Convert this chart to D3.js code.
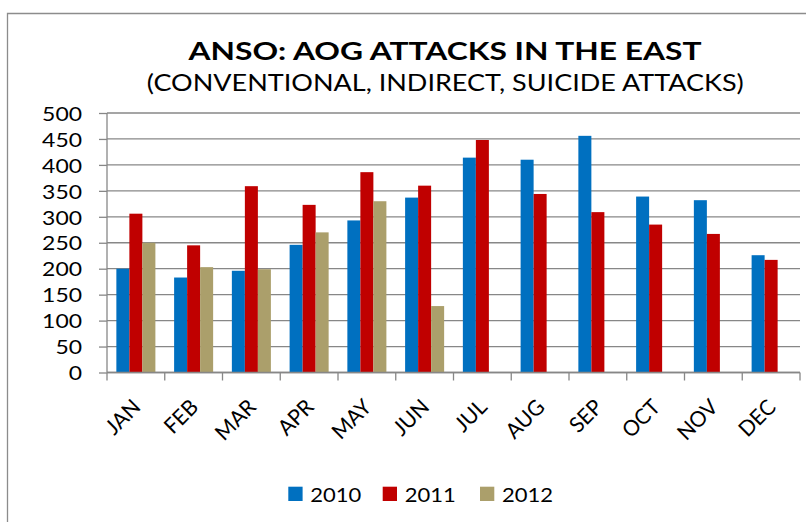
<!DOCTYPE html>
<html><head><meta charset="utf-8">
<script src="https://cdn.jsdelivr.net/npm/d3@7"></script>
<style>body{margin:0;background:#fff}svg{display:block}text{font-family:Lato,"Open Sans",sans-serif;fill:#000}</style>
</head><body><svg id="c" width="806" height="522"></svg>
<script>
const months = ["JAN","FEB","MAR","APR","MAY","JUN","JUL","AUG","SEP","OCT","NOV","DEC"];
const seriesNames = ["2010","2011","2012"];
const values2010 = [200,183,196,246,293,337,414,410,456,339,332,226];
const values2011 = [306,245,359,323,386,360,448,344,309,285,267,217];
const values2012 = [250,203,199,270,330,128,null,null,null,null,null,null];
const colors = ["#0070C0","#C00000","#AB9F6B"];
const yTicks = [0,50,100,150,200,250,300,350,400,450,500];
const title = "ANSO: AOG ATTACKS IN THE EAST";
const subtitle = "(CONVENTIONAL, INDIRECT, SUICIDE ATTACKS)";

const svg = d3.select("#c");
const L = 107, R = 800, T = 113, B = 372.5;
const grid = "#878787";
const x = d3.scaleBand().domain(months).range([L, R]).paddingInner(0).paddingOuter(0);
const x1 = d3.scaleBand().domain(seriesNames).range([0, x.bandwidth()]).paddingInner(0).paddingOuter(0.72);
const y = d3.scaleLinear().domain([0, 500]).range([B, T]);

// frame
svg.append("path").attr("d", `M7.5,522 V13.5 H806`).attr("fill","none").attr("stroke","#8c8c8c").attr("stroke-width",1.3);

// title
svg.append("text").attr("x",445).attr("y",60).attr("text-anchor","middle")
  .attr("font-size",25.5).attr("font-weight","bold").attr("textLength",513).attr("lengthAdjust","spacingAndGlyphs").text(title);
svg.append("text").attr("x",445.3).attr("y",90.5).attr("text-anchor","middle")
  .attr("font-size",23.5).attr("textLength",597).attr("lengthAdjust","spacingAndGlyphs").text(subtitle);

// y grid + axis
const yAxis = d3.axisLeft(y).tickValues(yTicks).tickSize(8).tickPadding(17).tickFormat(d3.format("d"));
const gy = svg.append("g").attr("transform",`translate(${L},0)`).call(yAxis);
gy.select(".domain").remove();
gy.selectAll(".tick line").attr("stroke",grid).attr("stroke-width",1.3);
gy.selectAll(".tick text").attr("font-size",20).attr("font-family","Lato,sans-serif").attr("fill","#000").attr("dy","0.36em")
  .attr("textLength",d=>String(d).length*13.3).attr("lengthAdjust","spacingAndGlyphs");
svg.append("g").selectAll("line").data(yTicks).join("line")
  .attr("x1",L).attr("x2",R).attr("y1",d=>y(d)).attr("y2",d=>y(d))
  .attr("stroke",grid).attr("stroke-width",1.3);
svg.append("line").attr("x1",L).attr("x2",L).attr("y1",T).attr("y2",B).attr("stroke",grid).attr("stroke-width",1.3);

// bars
const data = months.map((m,i)=>({m, vals:[values2010[i],values2011[i],values2012[i]]}));
const g = svg.append("g");
data.forEach(d=>{
  d.vals.forEach((v,j)=>{
    if (v==null) return;
    g.append("rect").attr("x",x(d.m)+x1(seriesNames[j])).attr("width",x1.bandwidth())
      .attr("y",y(v)).attr("height",y(0)-y(v)).attr("fill",colors[j]);
  });
});

// x axis
const boundaries = months.map(m=>x(m)).concat([R]);
svg.append("g").selectAll("line").data(boundaries).join("line")
  .attr("x1",d=>d).attr("x2",d=>d).attr("y1",B).attr("y2",B+8).attr("stroke",grid).attr("stroke-width",1.3);
svg.append("line").attr("x1",L).attr("x2",R).attr("y1",B).attr("y2",B).attr("stroke",grid).attr("stroke-width",1.3);
const xl = svg.append("g").selectAll("text").data(months).join("text")
  .attr("transform",d=>`translate(${x(d)+x.bandwidth()/2-5},${B+25}) rotate(-45)`)
  .attr("text-anchor","end").attr("font-size",21.5).attr("dy","0.72em").text(d=>d);
const marLen = xl.filter(d=>d==="MAR").node().getComputedTextLength();
const k = 47 / marLen;
xl.each(function(){ const n=this.getComputedTextLength(); d3.select(this).attr("textLength", n*k).attr("lengthAdjust","spacingAndGlyphs"); });

// legend
const legX = [288.3, 382.7, 480];
const lg = svg.append("g");
seriesNames.forEach((s,i)=>{
  lg.append("rect").attr("x",legX[i]).attr("y",486.7).attr("width",14.3).attr("height",14.3).attr("fill",colors[i]);
  lg.append("text").attr("x",legX[i]+22).attr("y",501.5).attr("font-size",20)
    .attr("textLength",51).attr("lengthAdjust","spacingAndGlyphs").text(s);
});
</script></body></html>
